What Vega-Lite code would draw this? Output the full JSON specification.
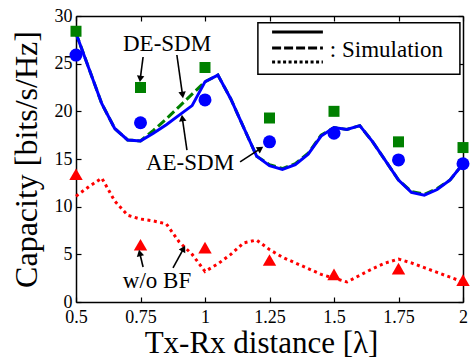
{
  "$schema": "https://vega.github.io/schema/vega-lite/v6.json",
  "width": 473,
  "height": 358,
  "autosize": {"type": "none", "contains": "padding"},
  "padding": {"left": 76, "top": 16, "right": 10, "bottom": 56},
  "config": {
    "font": "Times New Roman",
    "view": {"stroke": null},
    "axis": {
      "grid": false,
      "domainColor": "black",
      "domainWidth": 1.5,
      "tickColor": "black",
      "tickWidth": 1.2,
      "labelColor": "black",
      "titleColor": "black",
      "labelFont": "Times New Roman",
      "titleFont": "Times New Roman",
      "labelFontSize": 18,
      "titleFontWeight": "normal",
      "labelFlush": false,
      "labelOverlap": false
    }
  },
  "datasets": {
    "ae": [
      {"x": 0.5, "y": 28.2}, {"x": 0.55, "y": 24.5}, {"x": 0.6, "y": 20.8}, {"x": 0.65, "y": 18.2},
      {"x": 0.7, "y": 17.0}, {"x": 0.75, "y": 16.9}, {"x": 0.8, "y": 17.7}, {"x": 0.85, "y": 18.6},
      {"x": 0.9, "y": 19.6}, {"x": 0.95, "y": 20.6}, {"x": 1.0, "y": 23.1}, {"x": 1.05, "y": 23.8},
      {"x": 1.1, "y": 21.3}, {"x": 1.15, "y": 18.3}, {"x": 1.2, "y": 15.3}, {"x": 1.25, "y": 14.3},
      {"x": 1.3, "y": 13.9}, {"x": 1.35, "y": 14.4}, {"x": 1.4, "y": 15.5}, {"x": 1.45, "y": 17.4},
      {"x": 1.5, "y": 18.3}, {"x": 1.55, "y": 18.1}, {"x": 1.6, "y": 18.5}, {"x": 1.65, "y": 16.8},
      {"x": 1.7, "y": 14.8}, {"x": 1.75, "y": 12.8}, {"x": 1.8, "y": 11.5}, {"x": 1.85, "y": 11.2},
      {"x": 1.9, "y": 11.8}, {"x": 1.95, "y": 12.8}, {"x": 2.0, "y": 14.5}
    ],
    "de": [
      {"x": 0.5, "y": 28.2}, {"x": 0.55, "y": 24.5}, {"x": 0.6, "y": 20.8}, {"x": 0.65, "y": 18.2},
      {"x": 0.7, "y": 17.0}, {"x": 0.75, "y": 16.9}, {"x": 0.8, "y": 18.0}, {"x": 0.85, "y": 19.2},
      {"x": 0.9, "y": 20.5}, {"x": 0.95, "y": 21.8}, {"x": 1.0, "y": 23.1}, {"x": 1.05, "y": 23.8},
      {"x": 1.1, "y": 21.3}, {"x": 1.15, "y": 18.3}, {"x": 1.2, "y": 15.3}, {"x": 1.25, "y": 14.4},
      {"x": 1.3, "y": 14.0}, {"x": 1.35, "y": 14.5}, {"x": 1.4, "y": 15.6}, {"x": 1.45, "y": 17.5},
      {"x": 1.5, "y": 18.3}, {"x": 1.55, "y": 18.1}, {"x": 1.6, "y": 18.5}, {"x": 1.65, "y": 16.8},
      {"x": 1.7, "y": 14.8}, {"x": 1.75, "y": 12.8}, {"x": 1.8, "y": 11.6}, {"x": 1.85, "y": 11.3},
      {"x": 1.9, "y": 11.9}, {"x": 1.95, "y": 12.8}, {"x": 2.0, "y": 14.5}
    ],
    "wobf": [
      {"x": 0.5, "y": 11.1}, {"x": 0.55, "y": 12.1}, {"x": 0.6, "y": 13.0}, {"x": 0.65, "y": 10.6},
      {"x": 0.7, "y": 9.1}, {"x": 0.75, "y": 8.7}, {"x": 0.8, "y": 8.5}, {"x": 0.85, "y": 8.2},
      {"x": 0.9, "y": 6.3}, {"x": 0.95, "y": 5.0}, {"x": 1.0, "y": 3.2}, {"x": 1.05, "y": 4.0},
      {"x": 1.1, "y": 5.0}, {"x": 1.15, "y": 6.2}, {"x": 1.2, "y": 6.5}, {"x": 1.25, "y": 5.5},
      {"x": 1.3, "y": 4.7}, {"x": 1.35, "y": 4.1}, {"x": 1.4, "y": 3.5}, {"x": 1.45, "y": 2.9},
      {"x": 1.5, "y": 2.5}, {"x": 1.55, "y": 2.1}, {"x": 1.6, "y": 2.8}, {"x": 1.65, "y": 3.5},
      {"x": 1.7, "y": 4.1}, {"x": 1.75, "y": 4.5}, {"x": 1.8, "y": 4.1}, {"x": 1.85, "y": 3.6},
      {"x": 1.9, "y": 3.1}, {"x": 1.95, "y": 2.6}, {"x": 2.0, "y": 2.1}
    ],
    "meas": [
      {"x": 0.5, "s": "DE", "y": 28.4}, {"x": 0.75, "s": "DE", "y": 22.5}, {"x": 1.0, "s": "DE", "y": 24.6},
      {"x": 1.25, "s": "DE", "y": 19.3}, {"x": 1.5, "s": "DE", "y": 20.0}, {"x": 1.75, "s": "DE", "y": 16.8},
      {"x": 2.0, "s": "DE", "y": 16.2},
      {"x": 0.5, "s": "AE", "y": 25.9}, {"x": 0.75, "s": "AE", "y": 18.8}, {"x": 1.0, "s": "AE", "y": 21.2},
      {"x": 1.25, "s": "AE", "y": 16.8}, {"x": 1.5, "s": "AE", "y": 17.7}, {"x": 1.75, "s": "AE", "y": 14.9},
      {"x": 2.0, "s": "AE", "y": 14.5},
      {"x": 0.5, "s": "woBF", "y": 13.4}, {"x": 0.75, "s": "woBF", "y": 6.0}, {"x": 1.0, "s": "woBF", "y": 5.7},
      {"x": 1.25, "s": "woBF", "y": 4.4}, {"x": 1.5, "s": "woBF", "y": 2.9}, {"x": 1.75, "s": "woBF", "y": 3.5},
      {"x": 2.0, "s": "woBF", "y": 2.3}
    ],
    "legbox": [{"x": 1.205, "x2": 1.988, "y": 29.3, "y2": 23.9}],
    "leglines": [
      {"x": 1.26, "x2": 1.457, "y": 28.32, "style": "solid"},
      {"x": 1.26, "x2": 1.457, "y": 26.64, "style": "dashed"},
      {"x": 1.26, "x2": 1.457, "y": 25.18, "style": "dotted"}
    ],
    "legtext": [{"x": 1.484, "y": 26.43, "text": ": Simulation"}],
    "notes": [
      {"x": 0.853, "y": 27.07, "text": "DE-SDM"},
      {"x": 0.942, "y": 14.6, "text": "AE-SDM"},
      {"x": 0.814, "y": 2.2, "text": "w/o BF"}
    ],
    "arrows": [
      {"x": 0.760, "y": 25.7, "x2": 0.749, "y2": 23.4, "angle": 187},
      {"x": 0.891, "y": 25.91, "x2": 0.913, "y2": 21.71, "angle": 172},
      {"x": 0.930, "y": 15.94, "x2": 0.912, "y2": 19.3, "angle": 352},
      {"x": 1.136, "y": 14.69, "x2": 1.215, "y2": 16.09, "angle": 57},
      {"x": 0.760, "y": 3.67, "x2": 0.747, "y2": 5.14, "angle": 347},
      {"x": 0.876, "y": 3.57, "x2": 0.917, "y2": 5.6, "angle": 29}
    ]
  },
  "encoding": {
    "x": {"field": "x", "type": "quantitative", "scale": {"domain": [0.5, 2], "nice": false, "zero": false}, "axis": null},
    "y": {"field": "y", "type": "quantitative", "scale": {"domain": [0, 30], "nice": false, "zero": false}, "axis": null}
  },
  "resolve": {"axis": {"x": "independent", "y": "independent"}},
  "layer": [
    {
      "data": {"name": "de"},
      "mark": {"type": "line", "color": "#008000", "strokeWidth": 3, "strokeDash": [9, 4]},
      "encoding": {
        "x": {
          "field": "x", "type": "quantitative",
          "scale": {"domain": [0.5, 2], "nice": false, "zero": false},
          "axis": {
            "orient": "bottom",
            "values": [0.5, 0.75, 1, 1.25, 1.5, 1.75, 2],
            "labelExpr": "'' + datum.value",
            "tickSize": -5,
            "labelPadding": 25,
            "labelBaseline": "alphabetic",
            "title": "Tx-Rx distance [λ]",
            "titleFontSize": 31,
            "titleBaseline": "alphabetic",
            "titleX": 185,
            "titleY": 50
          }
        },
        "y": {
          "field": "y", "type": "quantitative",
          "scale": {"domain": [0, 30], "nice": false, "zero": false},
          "axis": {
            "orient": "left",
            "values": [0, 5, 10, 15, 20, 25, 30],
            "tickSize": -5,
            "labelPadding": 9,
            "labelBaseline": "middle",
            "title": "Capacity [bits/s/Hz]",
            "titleFontSize": 32,
            "titleBaseline": "alphabetic",
            "titleX": -40,
            "titleY": 143
          }
        }
      }
    },
    {
      "data": {"name": "ae"},
      "mark": {"type": "line", "color": "#0000ff", "strokeWidth": 3},
      "encoding": {
        "x": {
          "field": "x", "type": "quantitative",
          "scale": {"domain": [0.5, 2], "nice": false, "zero": false},
          "axis": {"orient": "top", "values": [0.5, 0.75, 1, 1.25, 1.5, 1.75, 2], "tickSize": -5, "labels": false, "title": null}
        },
        "y": {
          "field": "y", "type": "quantitative",
          "scale": {"domain": [0, 30], "nice": false, "zero": false},
          "axis": {"orient": "right", "values": [0, 5, 10, 15, 20, 25, 30], "tickSize": -5, "labels": false, "title": null}
        }
      }
    },
    {
      "data": {"name": "wobf"},
      "mark": {"type": "line", "color": "#ff0000", "strokeWidth": 3, "strokeDash": [3, 3.5]}
    },
    {
      "data": {"name": "meas"},
      "transform": [{"filter": {"field": "s", "equal": "DE"}}],
      "mark": {"type": "point", "shape": "square", "filled": true, "opacity": 1, "color": "#008000", "size": 121}
    },
    {
      "data": {"name": "meas"},
      "transform": [{"filter": {"field": "s", "equal": "AE"}}],
      "mark": {"type": "point", "shape": "circle", "filled": true, "opacity": 1, "color": "#0000ff", "size": 169}
    },
    {
      "data": {"name": "meas"},
      "transform": [{"filter": {"field": "s", "equal": "woBF"}}],
      "mark": {"type": "point", "shape": "triangle-up", "filled": true, "opacity": 1, "color": "#ff0000", "size": 180}
    },
    {
      "data": {"name": "legbox"},
      "mark": {"type": "rect", "fill": "white", "stroke": "black", "strokeWidth": 1.5},
      "encoding": {"x2": {"field": "x2"}, "y2": {"field": "y2"}}
    },
    {
      "data": {"name": "leglines"},
      "mark": {"type": "rule", "color": "black", "strokeWidth": 3},
      "encoding": {
        "x2": {"field": "x2"},
        "strokeDash": {"field": "style", "type": "nominal", "scale": {"domain": ["solid", "dashed", "dotted"], "range": [[1, 0], [9, 3], [3, 2.5]]}, "legend": null}
      }
    },
    {
      "data": {"name": "legtext"},
      "mark": {"type": "text", "font": "Times New Roman", "fontSize": 23, "align": "left", "baseline": "middle", "color": "black"},
      "encoding": {"text": {"field": "text"}}
    },
    {
      "data": {"name": "notes"},
      "mark": {"type": "text", "font": "Times New Roman", "fontSize": 23, "align": "center", "baseline": "middle", "color": "black"},
      "encoding": {"text": {"field": "text"}}
    },
    {
      "data": {"name": "arrows"},
      "mark": {"type": "rule", "color": "black", "strokeWidth": 1.6},
      "encoding": {"x2": {"field": "x2"}, "y2": {"field": "y2"}}
    },
    {
      "data": {"name": "arrows"},
      "mark": {"type": "point", "shape": "triangle-up", "filled": true, "opacity": 1, "color": "black", "size": 55},
      "encoding": {
        "x": {"field": "x2", "type": "quantitative", "scale": {"domain": [0.5, 2], "nice": false, "zero": false}, "axis": null},
        "y": {"field": "y2", "type": "quantitative", "scale": {"domain": [0, 30], "nice": false, "zero": false}, "axis": null},
        "angle": {"field": "angle", "type": "quantitative", "scale": null}
      }
    }
  ]
}
